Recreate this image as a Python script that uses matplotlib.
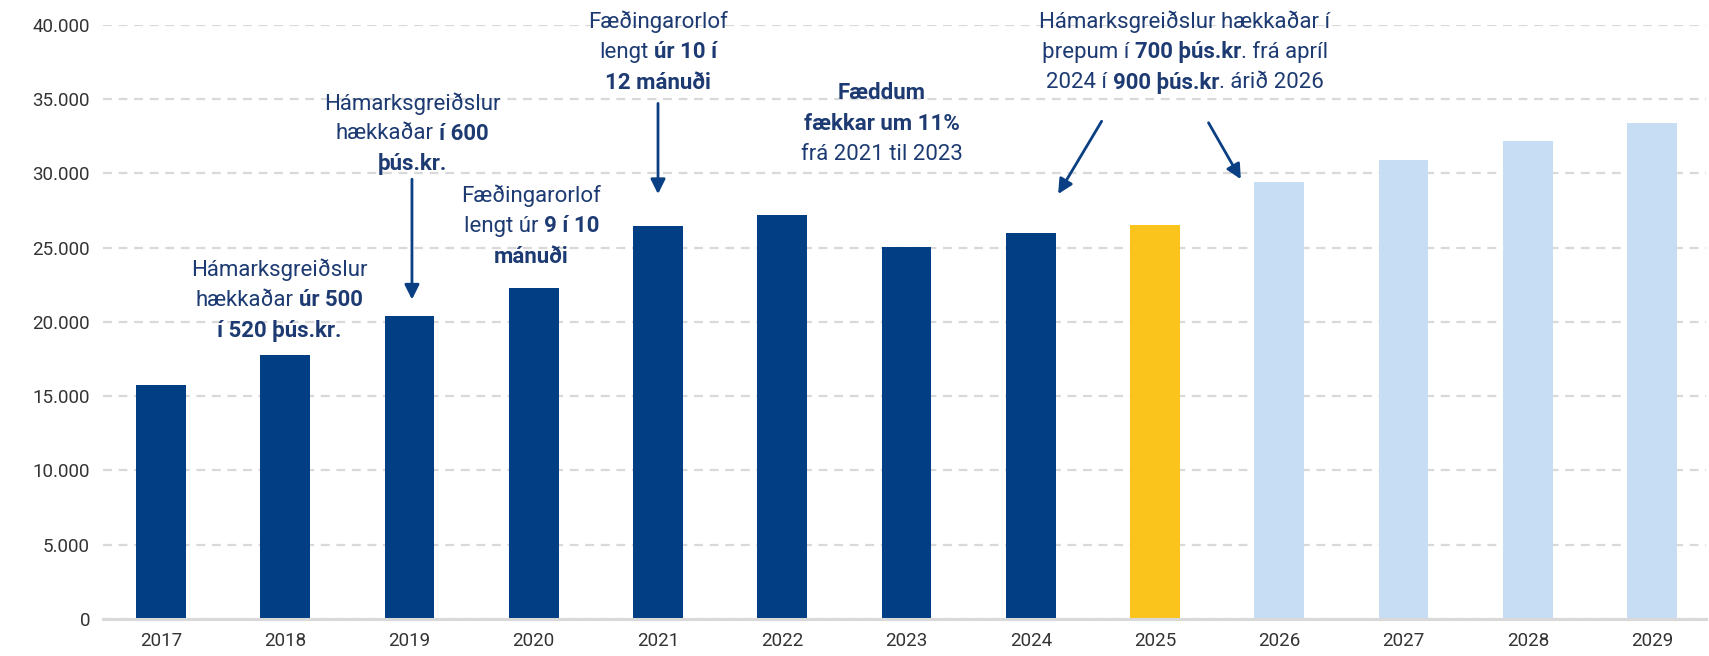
# Fæðingarorlof - fjöldi (súlurit með skýringum)
import matplotlib
matplotlib.use("Agg")
import matplotlib.pyplot as plt
from matplotlib.ticker import FuncFormatter, MultipleLocator

plt.rcParams['font.family'] = ['Liberation Sans Narrow', 'Roboto', 'DejaVu Sans']

# gögn
years = ['2017', '2018', '2019', '2020', '2021', '2022', '2023',
         '2024', '2025', '2026', '2027', '2028', '2029']
values = [15750, 17760, 20400, 22310, 26420, 27160, 25030,
          25980, 26500, 29430, 30900, 32150, 33390]
kind = ['raun'] * 8 + ['ár'] + ['spá'] * 4

colors = {'raun': '#023e84', 'ár': '#fbc41c', 'spá': '#c7ddf4'}
txt_col = '#1d3b72'
arrow_col = '#0b3f83'

# skýringar: (x miðja, y efsta lína, línur [(texti, feitt), ...])
notes = [
    (0.95, 23500, [[('Hámarksgreiðslur', False)],
                   [('hækkaðar', False), ('úr 500', True)],
                   [('í 520 þús.kr.', True)]]),
    (2.02, 34700, [[('Hámarksgreiðslur', False)],
                   [('hækkaðar', False), ('í 600', True)],
                   [('þús.kr.', True)]]),
    (2.98, 28500, [[('Fæðingarorlof', False)],
                   [('lengt úr', False), ('9 í 10', True)],
                   [('mánuði', True)]]),
    (4.00, 40200, [[('Fæðingarorlof', False)],
                   [('lengt', False), ('úr 10 í', True)],
                   [('12 mánuði', True)]]),
    (5.80, 35400, [[('Fæddum', True)],
                   [('fækkar um 11%', True)],
                   [('frá 2021 til 2023', False)]]),
    (8.24, 40200, [[('Hámarksgreiðslur hækkaðar í', False)],
                   [('þrepum í', False), ('700 þús.kr', True), ('. frá apríl', False)],
                   [('2024 í', False), ('900 þús.kr', True), ('. árið 2026', False)]]),
]

# örvar: (x frá, y frá, x til, y til)
arrows = [
    (2.02, 29600, 2.02, 21500),
    (4.00, 34700, 4.00, 28600),
    (7.57, 33500, 7.22, 28600),
    (8.43, 33400, 8.69, 29600),
]

fig = plt.figure(figsize=(17.09, 6.56), dpi=100)
ax = fig.add_axes([0.060, 0.0564, 0.938, 0.906])

x = range(len(years))
ax.bar(x, values, width=0.40, color=[colors[k] for k in kind], zorder=3)

ax.set_ylim(0, 40000)
ax.set_xlim(-0.47, 12.43)
ax.yaxis.set_major_locator(MultipleLocator(5000))
ax.yaxis.set_major_formatter(FuncFormatter(lambda v, p: f'{int(v):,}'.replace(',', '.')))
ax.set_xticks(list(x))
ax.set_xticklabels(years)
ax.tick_params(length=0, labelsize=13.5, colors='#333333')
ax.tick_params(axis='x', pad=9)
ax.tick_params(axis='y', pad=9)
ax.grid(axis='y', color='#d9d9d9', linestyle=(0, (4, 3)), linewidth=1.6, zorder=0)
for s in ['top', 'right', 'left']:
    ax.spines[s].set_visible(False)
ax.spines['bottom'].set_color('#d9d9d9')
ax.spines['bottom'].set_linewidth(2.2)
ax.spines['bottom'].set_zorder(4)

# teikna texta með blandaðri þykkt
fig.canvas.draw()
r = fig.canvas.get_renderer()
fs = 16
line_h = 30.5  # px
probe = ax.text(0, 0, 'a a', fontsize=fs)
probe2 = ax.text(0, 0, 'aa', fontsize=fs)
space = probe.get_window_extent(r).width - probe2.get_window_extent(r).width
probe.remove()
probe2.remove()

inv = ax.transData.inverted()
for cx, cy, lines in notes:
    px0, py0 = ax.transData.transform((cx, cy))
    for i, segs in enumerate(lines):
        items = []
        for j, (s, b) in enumerate(segs):
            t = ax.text(0, 0, s, fontsize=fs, color=txt_col,
                        fontweight='bold' if b else 'normal', va='center', ha='left')
            w = t.get_window_extent(r).width
            gap = 0 if (j + 1 < len(segs) and segs[j + 1][0].startswith('.')) else space
            items.append((t, w, gap))
        total = sum(w for _, w, _ in items) + sum(g for _, _, g in items[:-1])
        xpos = px0 - total / 2
        ypix = py0 - i * line_h
        for t, w, g in items:
            t.set_position(inv.transform((xpos, ypix)))
            xpos += w + g

for x0, y0, x1, y1 in arrows:
    ax.annotate('', xy=(x1, y1), xytext=(x0, y0),
                arrowprops=dict(arrowstyle='-|>', color=arrow_col, lw=2,
                                mutation_scale=22, shrinkA=0, shrinkB=0))

fig.savefig('out.png', dpi=100)
